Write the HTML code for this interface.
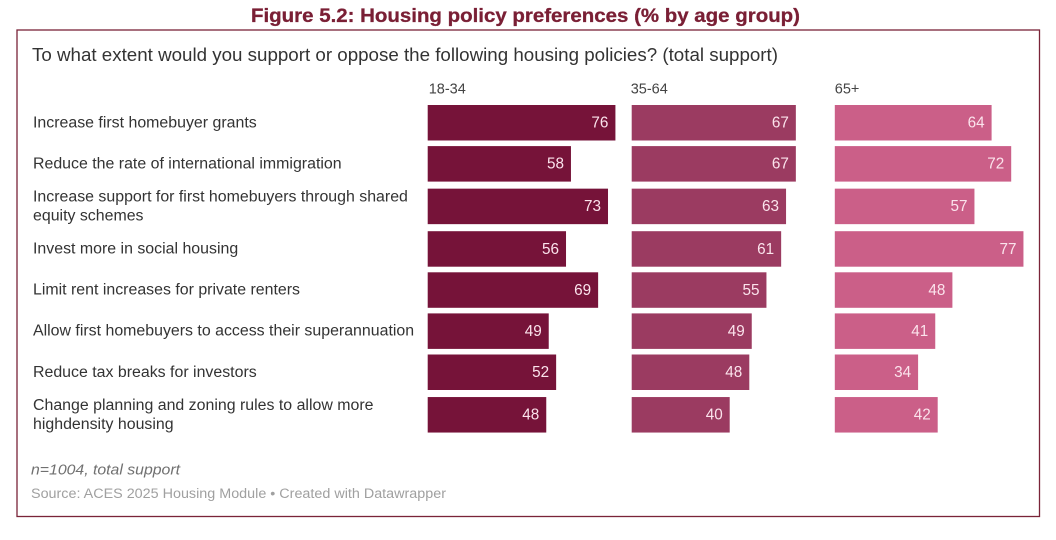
<!DOCTYPE html>
<html lang="en">
<head>
<meta charset="utf-8">
<title>Figure 5.2: Housing policy preferences</title>
<style>
html,body{margin:0;padding:0;background:#fff;}
body{width:1056px;height:540px;overflow:hidden;}
svg{display:block;filter:blur(0.35px);}
text{font-family:"Liberation Sans",sans-serif;}
</style>
</head>
<body>
<svg id="chart" xmlns="http://www.w3.org/2000/svg" width="1056" height="540" viewBox="0 0 1056 540">
  <text x="525.5" y="22" text-anchor="middle" font-size="19" font-weight="700" fill="#7a1f35" stroke="#7a1f35" stroke-width="0.3" textLength="549" lengthAdjust="spacingAndGlyphs">Figure 5.2: Housing policy preferences (% by age group)</text>
  <rect x="17" y="30" width="1022.5" height="486.5" fill="#fff" stroke="#7a2438" stroke-width="1.3"/>
  <text x="32" y="61" font-size="18" fill="#333" textLength="746" lengthAdjust="spacingAndGlyphs">To what extent would you support or oppose the following housing policies? (total support)</text>
  <g id="plot"></g>
  <text x="31" y="474.5" font-size="14.5" font-style="italic" fill="#707070" textLength="149" lengthAdjust="spacingAndGlyphs">n=1004, total support</text>
  <text x="31" y="498" font-size="13.5" fill="#a0a0a0" textLength="415" lengthAdjust="spacingAndGlyphs">Source: ACES 2025 Housing Module • Created with Datawrapper</text>
</svg>
<script>
const categories = [
  ["Increase first homebuyer grants"],
  ["Reduce the rate of international immigration"],
  ["Increase support for first homebuyers through shared", "equity schemes"],
  ["Invest more in social housing"],
  ["Limit rent increases for private renters"],
  ["Allow first homebuyers to access their superannuation"],
  ["Reduce tax breaks for investors"],
  ["Change planning and zoning rules to allow more", "highdensity housing"]
];
const ageGroups = ["18-34", "35-64", "65+"];
const values1834 = [76, 58, 73, 56, 69, 49, 52, 48];
const values3564 = [67, 67, 63, 61, 55, 49, 48, 40];
const values65 = [64, 72, 57, 77, 48, 41, 34, 42];
const seriesValues = [values1834, values3564, values65];

const NS = "http://www.w3.org/2000/svg";
const plot = document.getElementById("plot");
const colors = ["#761339", "#9b3b61", "#cb5f88"];
const panelX = [427.7, 631.7, 834.8];
const panelScale = [2.47, 2.45, 2.45];
const headOffset = [1, -1, 0];
const barH = 35.5;
const basePitch = 41.1;
const wrapExtra = 1.45;

function xScale(s, v) { return v * panelScale[s]; }

function rowY(i) {
  let y = 105;
  for (let k = 0; k < i; k++) {
    y += basePitch;
    if (categories[k].length > 1) y += wrapExtra;
    if (categories[k + 1].length > 1) y += wrapExtra;
  }
  return y;
}

function make(tag, attrs, txt) {
  const el = document.createElementNS(NS, tag);
  for (const k in attrs) el.setAttribute(k, attrs[k]);
  if (txt !== undefined) el.textContent = txt;
  plot.appendChild(el);
  return el;
}

categories.forEach(function (lines, i) {
  const mid = rowY(i) + barH / 2;
  lines.forEach(function (line, j) {
    const y = lines.length === 1 ? mid + 4.5 : mid - 5 + j * 19;
    const label = make("text", { x: 33, y: y, "font-size": 15.3, fill: "#333" }, line);
    
    
    const natural = label.getComputedTextLength();
    label.setAttribute("textLength", (natural * 1.04).toFixed(1));
    label.setAttribute("lengthAdjust", "spacingAndGlyphs");
  });
});

ageGroups.forEach(function (group, s) {
  const head = make("text", {
    x: panelX[s] + headOffset[s], y: 93.5, "font-size": 14.5, fill: "#444"
  }, group);
  
  

  seriesValues[s].forEach(function (v, i) {
    const w = xScale(s, v);
    const bar = make("rect", {
      x: panelX[s], y: rowY(i), width: w, height: barH, fill: colors[s]
    });
    
    

    const val = make("text", {
      x: panelX[s] + w - 7, y: rowY(i) + barH / 2 + 4.8,
      "text-anchor": "end", "font-size": 16, fill: "#fbe3ec",
      textLength: String(v).length * 8.5, lengthAdjust: "spacingAndGlyphs"
    }, String(v));
    
    
  });
});
</script>
</body>
</html>
